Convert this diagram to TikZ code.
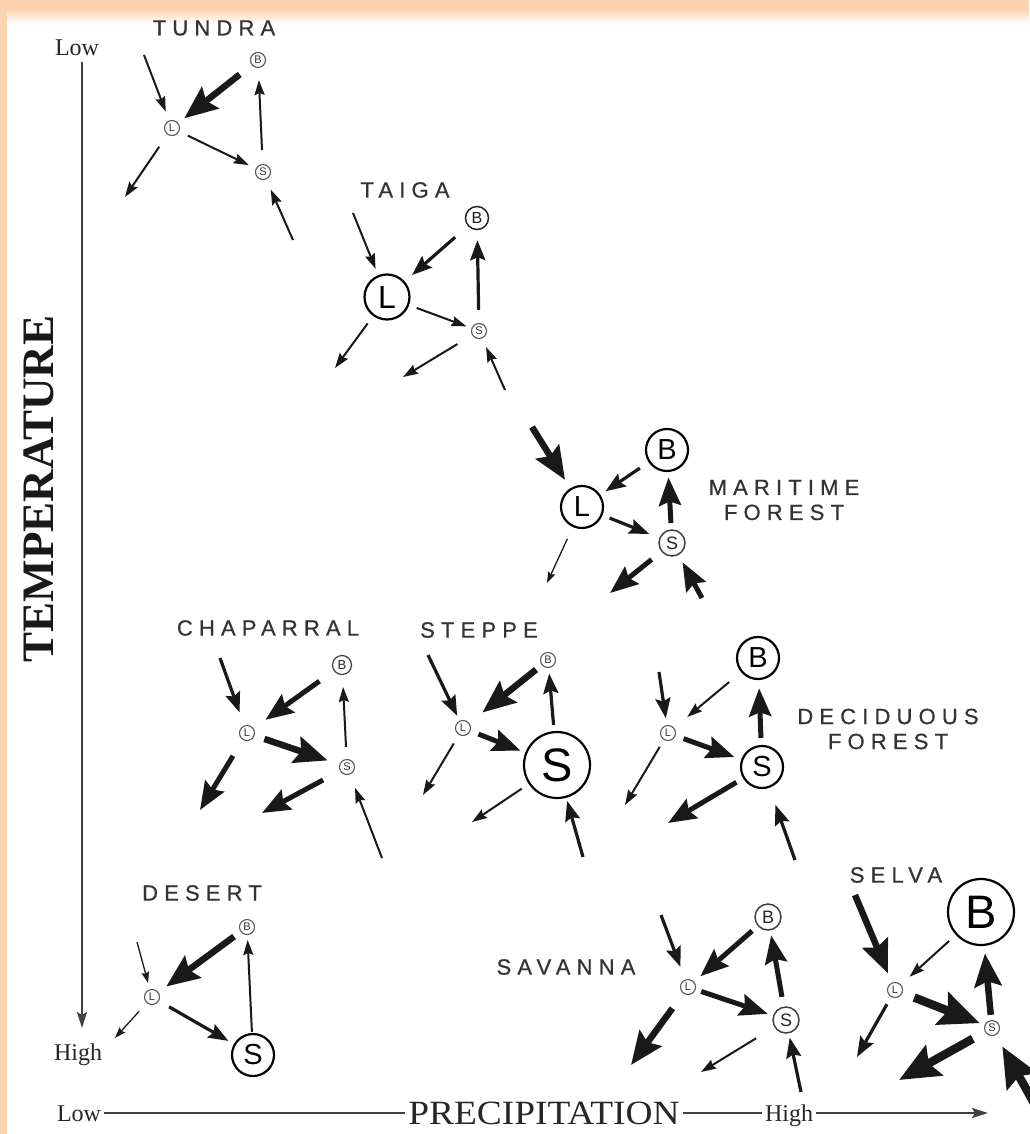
\documentclass[tikz,border=0pt]{standalone}
\usepackage{fontspec}
\setmainfont{Liberation Serif}
\newfontfamily\arialf{Liberation Sans}
\newfontfamily\labfont[LetterSpace=28,FakeBold=0.6]{Liberation Sans}
\usetikzlibrary{arrows.meta}
\definecolor{peach}{RGB}{252,211,175}
\begin{document}
\begin{tikzpicture}[x=1pt,y=-1pt,
  cir/.style={circle, draw, inner sep=0pt, font=\arialf},
  r7/.style={cir, minimum size=15pt, line width=1.1pt, draw=black!65, text=black!80, font=\arialf\fontsize{11}{11}\selectfont},
  r9/.style={cir, minimum size=19pt, line width=1.2pt, draw=black!75, text=black!85, font=\arialf\fontsize{13}{13}\selectfont},
  r11/.style={cir, minimum size=23pt, line width=1.5pt, draw=black!85, text=black!90, font=\arialf\fontsize{16}{16}\selectfont},
  r12/.style={cir, minimum size=26pt, line width=1.5pt, draw=black!75, text=black!85, font=\arialf\fontsize{18}{18}\selectfont},
  r20/.style={cir, minimum size=42pt, line width=2.2pt, font=\arialf\fontsize{29}{29}\selectfont},
  r22/.style={cir, minimum size=45pt, line width=2.2pt, font=\arialf\fontsize{32}{32}\selectfont},
  r33/.style={cir, minimum size=66pt, line width=2.2pt, font=\arialf\fontsize{47}{47}\selectfont},
  lab/.style={inner sep=0pt, text=black!80, align=center, font=\labfont\fontsize{22}{25}\selectfont},
  axtext/.style={inner sep=3pt, text=black!85, text height=17pt, text depth=0pt, font=\fontsize{24}{24}\selectfont},
  axline/.style={line width=2pt, draw=black!75},
  axarrow/.style={axline, -{Stealth[length=16pt,width=10pt,inset=3pt]}},
  a1/.style={line width=1.3pt, draw=black!90, -{Stealth[length=11pt,width=7.5pt,inset=1.5pt]}},
  a2/.style={line width=2pt, draw=black!90, -{Stealth[length=15pt,width=10pt,inset=2pt]}},
  a3/.style={line width=3.2pt, draw=black!90, -{Stealth[length=20pt,width=15pt,inset=3pt]}},
  a4/.style={line width=5pt, draw=black!90, -{Stealth[length=28pt,width=22pt,inset=4pt]}},
  a5/.style={line width=6.5pt, draw=black!90, -{Stealth[length=33pt,width=27pt,inset=5pt]}},
  a6/.style={line width=8.5pt, draw=black!90, -{Stealth[length=40pt,width=34pt,inset=6pt]}}
]
\useasboundingbox (0,0) rectangle (1029,1134);
\fill[white] (0,0) rectangle (1029,1134);
\fill[peach] (0,0) rectangle (1029,9);
\shade[top color=peach, bottom color=white] (7,9) rectangle (1029,24);
\fill[peach] (0,0) rectangle (7,1134);

% ---------- axes ----------
\node[axtext] (tLow) at (77,47) {Low};
\node[axtext] (tHigh) at (78,1052) {High};
\coordinate (tTop) at (82,62);
\coordinate (tBot) at (82,1028);
\draw[axarrow] (tTop) -- (tBot);
\node[rotate=90, inner sep=0pt, text=black!90, font=\bfseries\fontsize{45}{45}\selectfont] (tTitle) at (39,489) {TEMPERATURE};

\node[axtext] (pLow) at (79,1113) {Low};
\node[axtext, font=\fontsize{34}{34}\selectfont, text height=23pt] (pTitle) at (544,1113) {\scalebox{1.1}[1]{PRECIPITATION}};
\node[axtext] (pHigh) at (789,1113) {High};
\coordinate (pEnd) at (988,1113);
\draw[axline] (pLow.east) -- (pTitle.west);
\draw[axline] (pTitle.east) -- (pHigh.west);
\draw[axarrow] (pHigh.east) -- (pEnd);

% ---------- TUNDRA ----------
\node[lab] (tuT) at (214,28) {TUNDRA};
\node[r7] (tuB) at (258,60) {B};
\node[r7] (tuL) at (172,128) {L};
\node[r7] (tuS) at (263,172) {S};
\coordinate (tuI1) at (144,55);
\coordinate (tuO1) at (125,197);
\coordinate (tuI2) at (293,240);
\draw[a2, shorten >=17.5pt] (tuI1) -- (tuL.center);
\draw[a5, shorten <=23.3pt, shorten >=15.6pt] (tuB.center) -- (tuL.center);
\draw[a2, shorten <=17.5pt, shorten >=15.8pt] (tuL.center) -- (tuS.center);
\draw[a2, shorten <=22pt, shorten >=20pt] (tuS.center) -- (tuB.center);
\draw[a2, shorten <=22.7pt] (tuL.center) -- (tuO1);
\draw[a2, shorten >=19.3pt] (tuI2) -- (tuS.center);

% ---------- TAIGA ----------
\node[lab] (taT) at (405,190) {TAIGA};
\node[r11] (taB) at (477,218) {B};
\node[r22] (taL) at (387,297) {L};
\node[r7] (taS) at (479,331) {S};
\coordinate (taI1) at (353,213);
\coordinate (taO1) at (335,368);
\coordinate (taO2) at (403,377);
\coordinate (taI2) at (505,390);
\draw[a2, shorten >=30.4pt] (taI1) -- (taL.center);
\draw[a3, shorten <=29.1pt, shorten >=33.3pt] (taB.center) -- (taL.center);
\draw[a2, shorten <=31.6pt, shorten >=13.4pt] (taL.center) -- (taS.center);
\draw[a3, shorten <=21.1pt, shorten >=22.2pt] (taS.center) -- (taB.center);
\draw[a2, shorten <=32.8pt] (taL.center) -- (taO1);
\draw[a2, shorten <=25.2pt] (taS.center) -- (taO2);
\draw[a2, shorten >=17.5pt] (taI2) -- (taS.center);

% ---------- MARITIME FOREST ----------
\node[lab] (maT) at (784,500) {MARITIME\\FOREST};
\node[r20] (maB) at (667,450) {B};
\node[r20] (maL) at (582,507) {L};
\node[r12] (maS) at (672,543) {S};
\coordinate (maI1) at (532,427);
\coordinate (maO1) at (547,583);
\coordinate (maO2) at (610,593);
\coordinate (maI2) at (702,598);
\draw[a5, shorten >=32pt] (maI1) -- (maL.center);
\draw[a3, shorten <=32.6pt, shorten >=28.3pt] (maB.center) -- (maL.center);
\draw[a3, shorten <=29.7pt, shorten >=24.5pt] (maL.center) -- (maS.center);
\draw[a4, shorten <=20pt, shorten >=27.5pt] (maS.center) -- (maB.center);
\draw[a1, shorten <=35.1pt] (maL.center) -- (maO1);
\draw[a4, shorten <=26.2pt] (maS.center) -- (maO2);
\draw[a4, shorten >=22pt] (maI2) -- (maS.center);

% ---------- CHAPARRAL ----------
\node[lab] (chT) at (268,628) {CHAPARRAL};
\node[r9] (chB) at (342,665) {B};
\node[r7] (chL) at (247,733) {L};
\node[r7] (chS) at (347,767) {S};
\coordinate (chI1) at (220,658);
\coordinate (chO1) at (200,810);
\coordinate (chO2) at (262,813);
\coordinate (chI2) at (382,858);
\draw[a3, shorten >=21.9pt] (chI1) -- (chL.center);
\draw[a4, shorten <=27.7pt, shorten >=22.6pt] (chB.center) -- (chL.center);
\draw[a5, shorten <=18.4pt, shorten >=20.4pt] (chL.center) -- (chS.center);
\draw[a2, shorten <=20.1pt, shorten >=22pt] (chS.center) -- (chB.center);
\draw[a4, shorten <=26.8pt] (chL.center) -- (chO1);
\draw[a4, shorten <=27.2pt] (chS.center) -- (chO2);
\draw[a2, shorten >=22.4pt] (chI2) -- (chS.center);

% ---------- STEPPE ----------
\node[lab] (stT) at (479,630) {STEPPE};
\node[r7] (stB) at (548,660) {B};
\node[r7] (stL) at (463,728) {L};
\node[r33] (stS) at (557,765) {S};
\coordinate (stI1) at (428,655);
\coordinate (stO1) at (423,795);
\coordinate (stO2) at (472,822);
\coordinate (stI2) at (583,857);
\draw[a3, shorten >=13.6pt] (stI1) -- (stL.center);
\draw[a5, shorten <=15.3pt, shorten >=24.8pt] (stB.center) -- (stL.center);
\draw[a4, shorten <=16.6pt, shorten >=39.2pt] (stL.center) -- (stS.center);
\draw[a3, shorten <=40.3pt, shorten >=13.6pt] (stS.center) -- (stB.center);
\draw[a2, shorten <=18pt] (stL.center) -- (stO1);
\draw[a2, shorten <=42.5pt] (stS.center) -- (stO2);
\draw[a3, shorten >=37.3pt] (stI2) -- (stS.center);

% ---------- DECIDUOUS FOREST ----------
\node[lab] (deT) at (888,729) {DECIDUOUS\\FOREST};
\node[r20] (deB) at (758,658) {B};
\node[r7] (deL) at (668,733) {L};
\node[r20] (deS) at (762,767) {S};
\coordinate (deI1) at (659,672);
\coordinate (deO1) at (625,805);
\coordinate (deO2) at (668,823);
\coordinate (deI2) at (795,860);
\draw[a3, shorten >=15pt] (deI1) -- (deL.center);
\draw[a2, shorten <=37.5pt, shorten >=25pt] (deB.center) -- (deL.center);
\draw[a4, shorten <=16.6pt, shorten >=29.4pt] (deL.center) -- (deS.center);
\draw[a4, shorten <=29pt, shorten >=30.3pt] (deS.center) -- (deB.center);
\draw[a2, shorten <=16.1pt] (deL.center) -- (deO1);
\draw[a4, shorten <=29.8pt] (deS.center) -- (deO2);
\draw[a3, shorten >=40.2pt] (deI2) -- (deS.center);

% ---------- DESERT ----------
\node[lab] (dsT) at (202,893) {DESERT};
\node[r7] (dsB) at (247,927) {B};
\node[r7] (dsL) at (152,997) {L};
\node[r20] (dsS) at (253,1055) {S};
\coordinate (dsI1) at (137,942);
\coordinate (dsO1) at (115,1038);
\draw[a1, shorten >=14.6pt] (dsI1) -- (dsL.center);
\draw[a5, shorten <=16.1pt, shorten >=17.7pt] (dsB.center) -- (dsL.center);
\draw[a3, shorten <=19.7pt, shorten >=28.3pt] (dsL.center) -- (dsS.center);
\draw[a2, shorten <=23.1pt, shorten >=13pt] (dsS.center) -- (dsB.center);
\draw[a1, shorten <=19.2pt] (dsL.center) -- (dsO1);

% ---------- SAVANNA ----------
\node[lab] (saT) at (566,967) {SAVANNA};
\node[r12] (saB) at (768,917) {B};
\node[r7] (saL) at (688,987) {L};
\node[r12] (saS) at (786,1020) {S};
\coordinate (saI1) at (661,915);
\coordinate (saO1) at (631,1065);
\coordinate (saO2) at (701,1072);
\coordinate (saI2) at (801,1092);
\draw[a3, shorten >=21.5pt] (saI1) -- (saL.center);
\draw[a4, shorten <=21.1pt, shorten >=16.3pt] (saB.center) -- (saL.center);
\draw[a4, shorten <=13.9pt, shorten >=19.3pt] (saL.center) -- (saS.center);
\draw[a4, shorten <=23.5pt, shorten >=18.7pt] (saS.center) -- (saB.center);
\draw[a5, shorten <=26.4pt] (saL.center) -- (saO1);
\draw[a2, shorten <=35pt] (saS.center) -- (saO2);
\draw[a3, shorten >=18.1pt] (saI2) -- (saS.center);

% ---------- SELVA ----------
\node[lab] (seT) at (896,875) {SELVA};
\node[r33] (seB) at (981,912) {B};
\node[r7] (seL) at (895,990) {L};
\node[r7] (seS) at (992,1028) {S};
\coordinate (seI1) at (855,895);
\coordinate (seO1) at (857,1057);
\coordinate (seO2) at (899,1080);
\coordinate (seI2) at (1034,1103);
\draw[a5, shorten >=18pt] (seI1) -- (seL.center);
\draw[a2, shorten <=43.1pt, shorten >=19.7pt] (seB.center) -- (seL.center);
\draw[a6, shorten <=20.6pt, shorten >=13.3pt] (seL.center) -- (seS.center);
\draw[a5, shorten <=13.2pt, shorten >=41.6pt] (seS.center) -- (seB.center);
\draw[a3, shorten <=16.4pt] (seL.center) -- (seO1);
\draw[a6, shorten <=22pt] (seS.center) -- (seO2);
\draw[a6, shorten >=21pt] (seI2) -- (seS.center);
\end{tikzpicture}
\end{document}
